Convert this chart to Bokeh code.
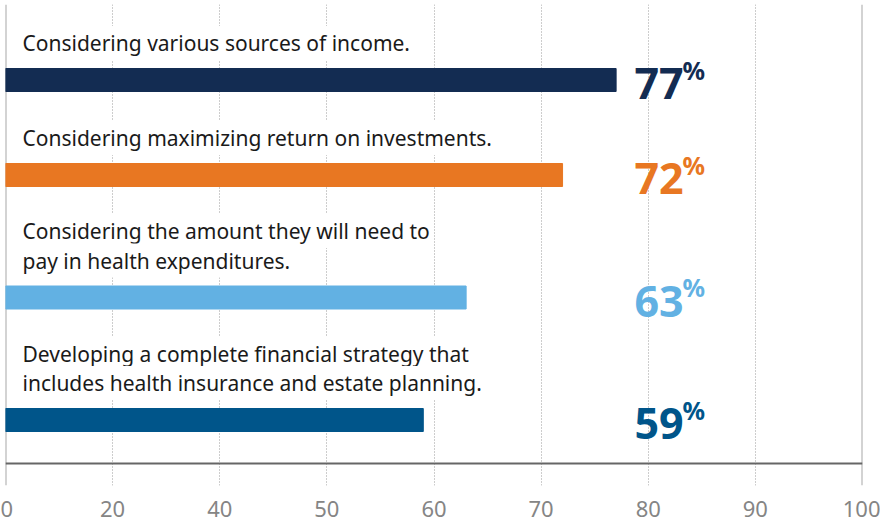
import numpy as np
from bokeh.plotting import figure
from bokeh.models import Range1d, FixedTicker, Span, ColumnDataSource
from bokeh.core.properties import value
from bokeh.embed import file_html
from bokeh.resources import INLINE

# ---- data ----
categories = [
    "Considering various sources of income.",
    "Considering maximizing return on investments.",
    "Considering the amount they will need to\npay in health expenditures.",
    "Developing a complete financial strategy that\nincludes health insurance and estate planning.",
]
values = [77, 72, 63, 59]
colors = ["#132c52", "#e87722", "#62b1e3", "#00558a"]
tick_values = [0, 20, 40, 50, 60, 70, 80, 90, 100]

# ---- layout constants ----
FONT = "Noto Sans"
W, H = 880, 522
FRAME_H = 481
BAR_H = 23
LINE_H = 29.5

# the axis ticks are evenly spaced, values between ticks are interpolated
tick_pos = list(range(len(tick_values)))
bar_right = np.interp(values, tick_values, tick_pos)

# vertical layout (pixel units from the frame top)
n_lines = [len(c.split("\n")) for c in categories]
centers = []
c = 75.5
for i, n in enumerate(n_lines):
    if i > 0:
        c += 95 + 27.5 * (n - 1)
    centers.append(c)
centers = np.array(centers)

p = figure(
    width=W, height=H,
    x_range=Range1d(0, len(tick_values) - 1),
    y_range=Range1d(FRAME_H, 0),
    output_backend="svg", toolbar_location=None,
    y_axis_location=None,
    min_border_left=5, min_border_top=4, min_border_right=18, min_border_bottom=37,
)
p.outline_line_color = None
p.background_fill_color = "white"
p.border_fill_color = "white"

p.ygrid.visible = False
p.xgrid.ticker = FixedTicker(ticks=tick_pos)
p.xgrid.grid_line_color = "#9a9a9a"
p.xgrid.grid_line_dash = "1 2"
p.xgrid.grid_line_width = 1

ax = p.xaxis[0]
ax.ticker = FixedTicker(ticks=tick_pos)
ax.major_label_overrides = {i: str(v) for i, v in zip(tick_pos, tick_values)}
ax.axis_line_color = None
ax.major_tick_line_color = None
ax.minor_tick_line_color = None
ax.major_tick_out = 0
ax.major_tick_in = 0
ax.major_label_standoff = 15
ax.major_label_text_font = FONT
ax.major_label_text_font_size = "22px"
ax.major_label_text_color = "#858585"

# frame lines
p.add_layout(Span(location=0, dimension="height", line_color="#a8a8a8", line_width=2, level="underlay"))
p.add_layout(Span(location=len(tick_values) - 1, dimension="height", line_color="#a8a8a8", line_width=2, level="underlay"))
p.add_layout(Span(location=459, dimension="width", line_color="#666666", line_width=2, level="underlay"))

# bars
src = ColumnDataSource(dict(y=centers, right=bar_right, color=colors))
p.hbar(y="y", left=0, right="right", height=BAR_H, color="color", source=src)

# category labels (one text per line, white background hides the grid)
lx, ly, lt = [], [], []
for cat, cy in zip(categories, centers):
    lines = cat.split("\n")
    n = len(lines)
    for k, line in enumerate(lines):
        lx.append(0)
        ly.append(cy - BAR_H / 2 - 25.5 - LINE_H * (n - 1 - k))
        lt.append(line)
p.text(x=lx, y=ly, text=lt, x_offset=14, text_align="left", text_baseline="alphabetic",
       text_font=value(FONT), text_font_size="21px", text_color="#1a1a1a",
       background_fill_color="white", padding=3)

# percentage labels
psrc = ColumnDataSource(dict(x=[0] * len(values), y=centers + 3.5, y2=centers - 10.5,
                             num=[str(v) for v in values], pct=["%"] * len(values), color=colors))
p.text(x="x", y="y", text="num", x_offset=629, text_align="left", text_baseline="alphabetic",
       text_font=value(FONT), text_font_style="bold", text_font_size="43px",
       text_color="color", source=psrc)
p.text(x="x", y="y2", text="pct", x_offset=677, text_align="left", text_baseline="alphabetic",
       text_font=value(FONT), text_font_style="bold", text_font_size="25px",
       text_color="color", source=psrc)

open("out.html", "w").write(file_html(p, INLINE))
